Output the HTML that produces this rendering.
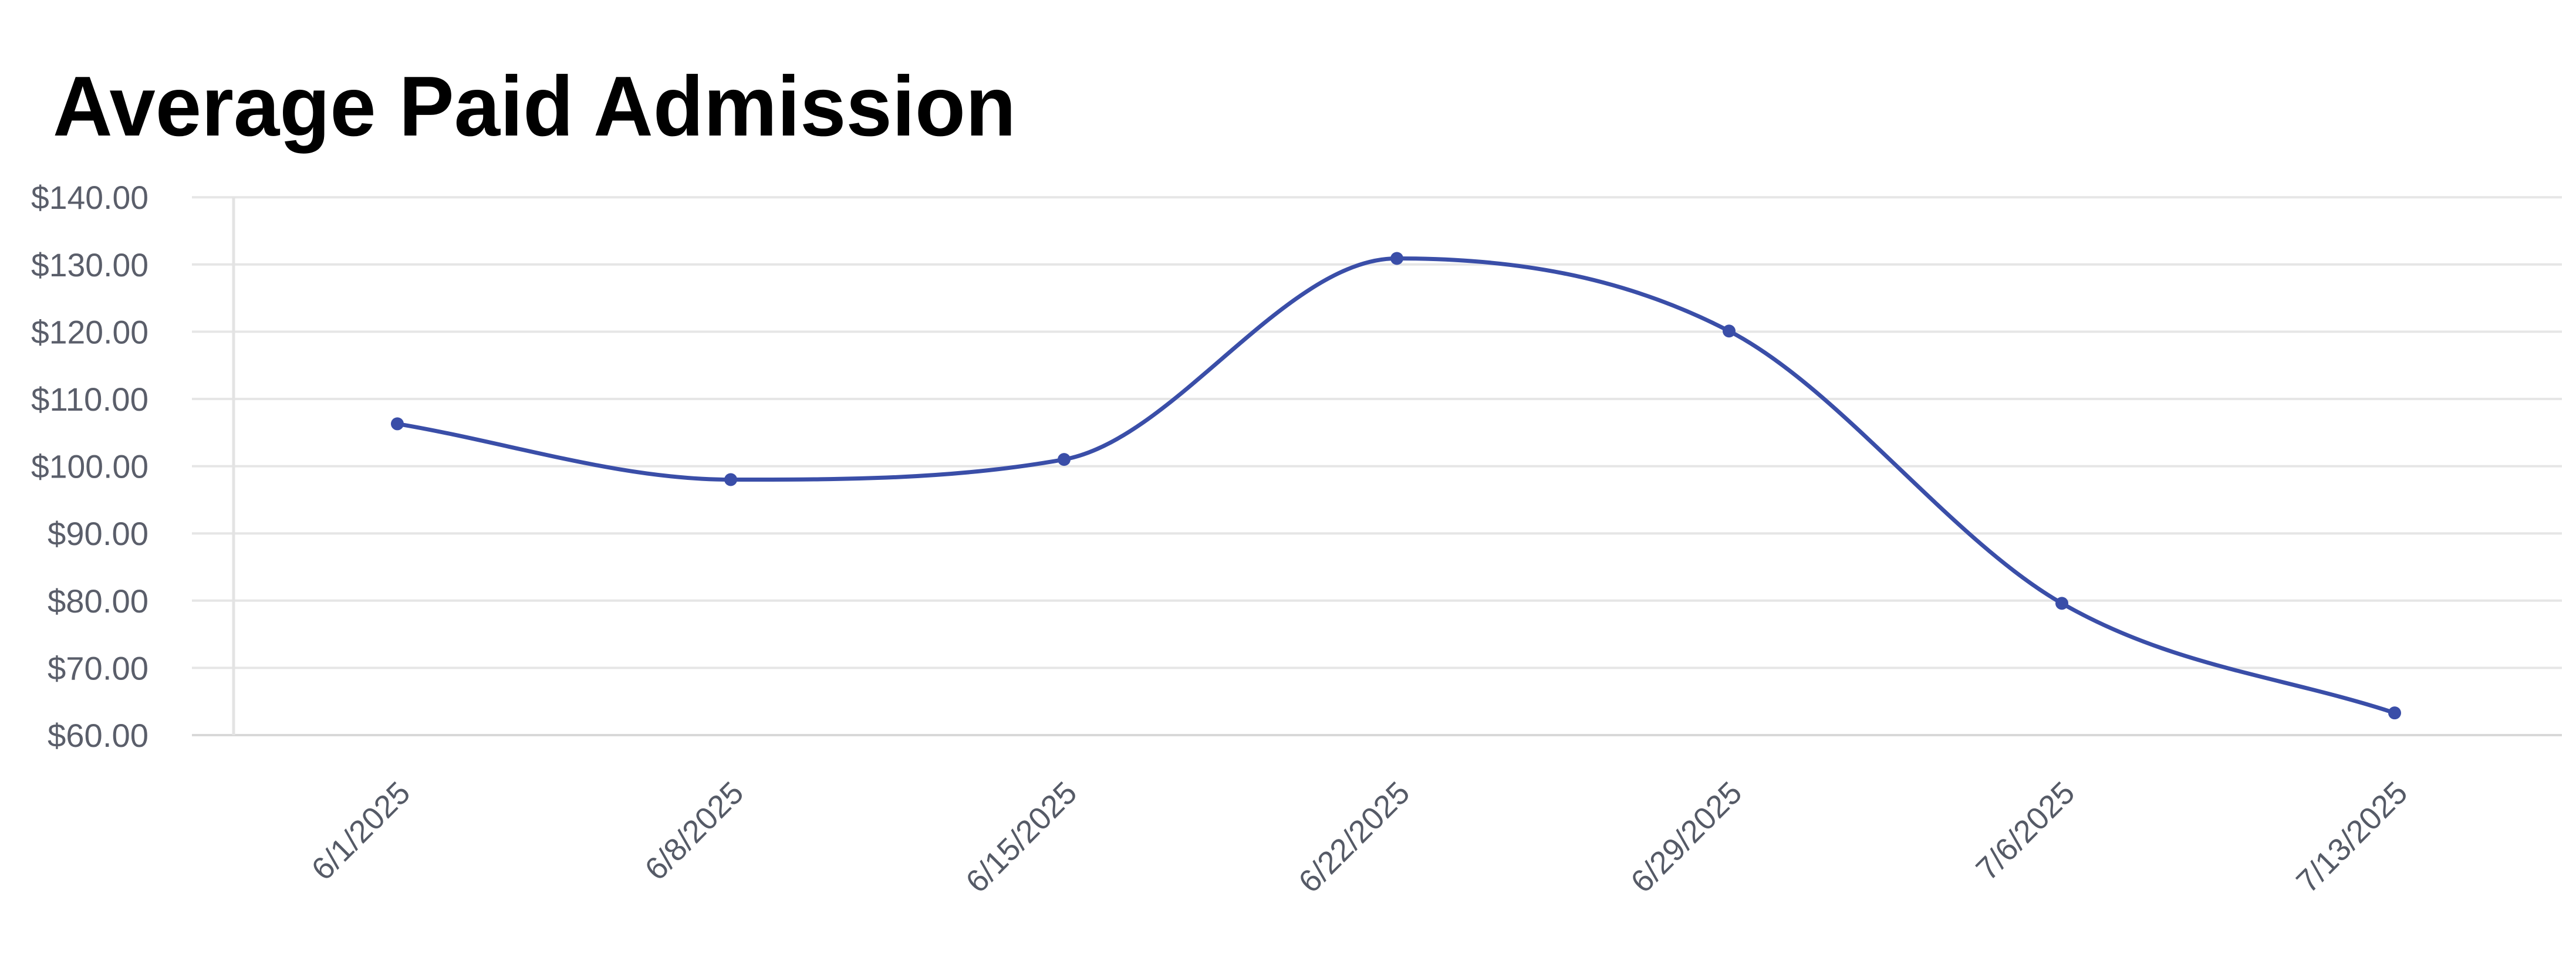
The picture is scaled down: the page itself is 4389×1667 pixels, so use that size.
<!DOCTYPE html>
<html><head><meta charset="utf-8"><style>
html,body{margin:0;padding:0;background:#fff;width:4389px;height:1667px;overflow:hidden}
svg{display:block}
</style></head><body>
<svg id="s" width="4389" height="1667" viewBox="0 0 4389 1667" xmlns="http://www.w3.org/2000/svg">
<text x="90" y="231" font-family="Liberation Sans, Arial, sans-serif" font-weight="bold" font-size="145" fill="#000" textLength="1641" lengthAdjust="spacingAndGlyphs">Average Paid Admission</text>
<g id="grid" stroke="#e6e6e6" stroke-width="4"></g>
<line x1="398" y1="336" x2="398" y2="1253" stroke="#e3e3e3" stroke-width="5"/>
<g id="ylab" font-family="Liberation Sans, Arial, sans-serif" font-size="56" fill="#5a5e6a" text-anchor="end"></g>
<g id="xlab" font-family="Liberation Sans, Arial, sans-serif" font-size="54" fill="#555a66" text-anchor="end"></g>
<path id="line" fill="none" stroke="#3a4ea8" stroke-width="7" stroke-linejoin="round"/>
<g id="pts" fill="#3a4ea8"></g>
</svg>
<script>
var NS="http://www.w3.org/2000/svg";
function el(t,a,p,txt){var e=document.createElementNS(NS,t);for(var k in a)e.setAttribute(k,a[k]);if(txt)e.textContent=txt;document.getElementById(p).appendChild(e);return e;}
function Y(v){return 1253-(v-60)*11.46;}
for(var v=60;v<=140;v+=10){var y=Y(v);
 el('line',{x1:327,y1:y,x2:4365,y2:y,stroke:v==60?'#d8d8d8':'#e6e6e6'},'grid');
 el('text',{x:253,y:y+20,textLength:(v>=100?200:172),lengthAdjust:'spacingAndGlyphs'},'ylab','$'+v+'.00');}
var xs=[677,1245,1813,2380,2946,3513,4080];
var vs=[106.3,98.0,101.0,130.9,120.1,79.6,63.3];
var labs=['6/1/2025','6/8/2025','6/15/2025','6/22/2025','6/29/2025','7/6/2025','7/13/2025'];
var ys=vs.map(Y);
var n=xs.length,d=[],m=[];
for(var i=0;i<n-1;i++)d[i]=(ys[i+1]-ys[i])/(xs[i+1]-xs[i]);
m[0]=d[0];m[n-1]=d[n-2];
for(var i=1;i<n-1;i++)m[i]=(d[i-1]*d[i]<=0)?0:(d[i-1]+d[i])/2;
for(var i=0;i<n-1;i++){if(d[i]==0){m[i]=m[i+1]=0;continue;}
 var a=m[i]/d[i],b=m[i+1]/d[i],s=a*a+b*b;if(s>9){var t=3/Math.sqrt(s);m[i]=t*a*d[i];m[i+1]=t*b*d[i];}}
var p='M'+xs[0]+','+ys[0];
for(var i=0;i<n-1;i++){var h=(xs[i+1]-xs[i])/3;
 p+=' C'+(xs[i]+h)+','+(ys[i]+m[i]*h)+' '+(xs[i+1]-h)+','+(ys[i+1]-m[i+1]*h)+' '+xs[i+1]+','+ys[i+1];}
document.getElementById('line').setAttribute('d',p);
for(var i=0;i<n;i++){el('circle',{cx:xs[i],cy:ys[i],r:11},'pts');
 var tx=xs[i]+25,ty=1355;
 el('text',{x:tx,y:ty,transform:'rotate(-45 '+tx+' '+ty+')'},'xlab',labs[i]);}
</script>
</body></html>
